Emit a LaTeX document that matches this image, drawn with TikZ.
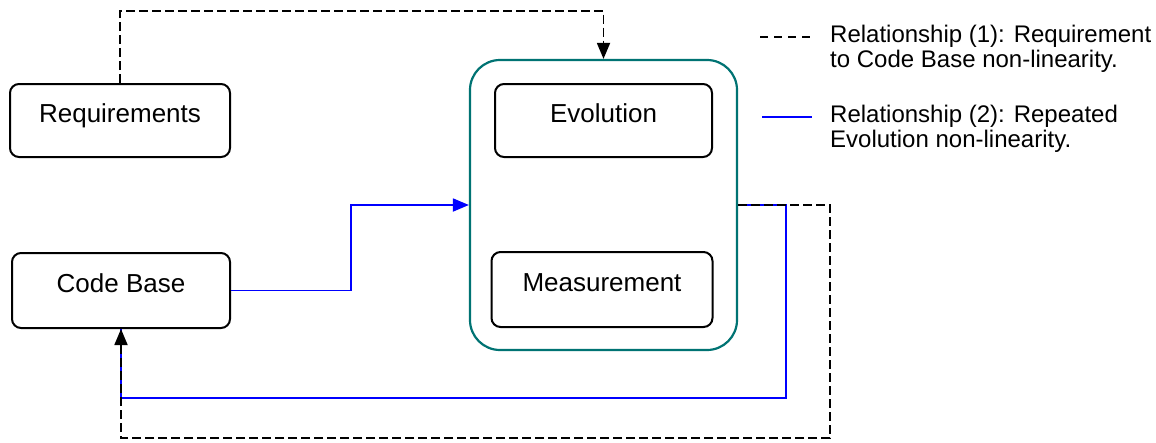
\documentclass[tikz,border=0pt]{standalone}
\usepackage{fontspec}
\setmainfont{Liberation Sans}
\usetikzlibrary{arrows.meta, calc}

\begin{document}
\begin{tikzpicture}[x=1pt, y=-1pt,
        box/.style={draw=black, line width=2pt, rounded corners=9pt, fill=white,
            text height=19pt, text depth=16pt, inner sep=0pt, font=\fontsize{26}{28}\selectfont},
        group/.style={draw=teal!90!black, line width=2.2pt, rounded corners=30pt,
            minimum width=267pt, minimum height=290pt},
        dashline/.style={draw=black, line width=1.8pt, dash pattern=on 9pt off 4pt},
        blueline/.style={draw=blue, line width=1.8pt},
        tip/.style={-{Triangle[length=16pt, width=13pt]}},
        font=\fontsize{24}{25}\selectfont]
    \useasboundingbox (0,0) rectangle (1156,442);

    % nodes
    \node[group] (cycle) at (603.5,205) {};
    \node[box, minimum width=220pt, minimum height=73pt] (req) at (120,120.5) {Requirements};
    \node[box, minimum width=218pt, minimum height=75pt] (code) at (121,290.5) {Code Base};
    \node[box, minimum width=217pt, minimum height=73pt] (evo) at (603.5,120.5) {Evolution};
    \node[box, minimum width=221pt, minimum height=75pt] (meas) at (602,289.5) {Measurement};

    % relationship (2)
    \draw[blueline, tip] (code.east) -- ++(120,0) |- (cycle.west);
    \draw[blueline] (cycle.east) -- ++(48,0) -- ++(0,193) -| (code.south);

    % relationship (1)
    \draw[dashline, tip] (req.north) -- ++(0,-72) -| (cycle.north);
    \draw[dashline, tip] (cycle.east) -- ++(92,0) -- ++(0,233) -| (code.south);

    % legend
    \coordinate (k1a) at (760,37);
    \coordinate (k1b) at (812,37);
    \coordinate (k2a) at (762,117);
    \coordinate (k2b) at (812,117);
    \draw[line width=1.8pt, dash pattern=on 7.5pt off 6.5pt] (k1a) -- (k1b);
    \draw[blueline] (k2a) -- (k2b);
    \node[anchor=west, align=left, inner sep=0pt] (key1) at ($(k1b)+(18,12)$)
        {Relationship (1): Requirement\\to Code Base non-linearity.};
    \node[anchor=west, align=left, inner sep=0pt] (key2) at ($(k2b)+(18,12)$)
        {Relationship (2): Repeated\\Evolution non-linearity.};
\end{tikzpicture}
\end{document}
